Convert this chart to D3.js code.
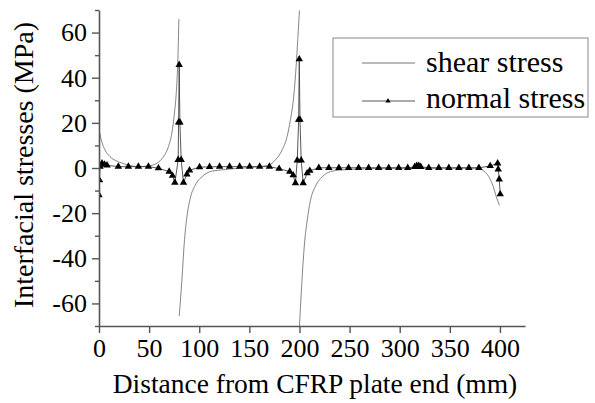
<!DOCTYPE html>
<html><head><meta charset="utf-8">
<script src="https://cdn.jsdelivr.net/npm/d3@7"></script>
<style>body{margin:0;background:#fff} text{font-family:'Liberation Serif','Times New Roman',serif}</style>
</head><body>
<svg id="c" width="595" height="403"></svg>
<script>
// ---- data ----
const shearX = [0, 2.7, 6, 11, 19.3, 29.3, 39.3, 49.3, 57.7, 64.3, 69.3, 72.7, 75.3, 77.3, 78.7, 79.7, null,
  80, 81.7, 83.3, 85, 87.7, 91, 96, 102.7, 111, 121, 140, 159.3, 169.3, 176, 182.7, 187.7, 191, 194.3, 196.7, 198.3, 200, null,
  200, 201.7, 203.3, 205, 207.7, 211, 216, 222.7, 231, 241, 270, 300, 340, 377.7, 382.4, 389, 393.4, 396.4, 399.5];
const shearY = [17, 11.7, 8, 5, 2.8, 1.3, 0.6, 0.9, 2.1, 5, 9.5, 15.5, 24.4, 34.8, 48.2, 66, null,
  -65.6, -56, -45.5, -33.6, -21.7, -13.5, -7.6, -3.9, -1.6, -0.9, -0.1, 0.6, 1.3, 3.6, 8, 14, 21.4, 31.8, 45.2, 57, 69.8, null,
  -70, -56, -44, -33.6, -23.2, -14.3, -8, -3.9, -1.6, -0.9, -0.3, -0.1, -0.1, -0.1, -0.9, -3.9, -8.3, -12.8, -16.5];

const normalX = [0, 0.5, 1, 3, 5.5, 8, 19.3, 29.3, 39.3, 49.3, 59.3, 70, 73.3, 75.7, 79, 79.4, 80, 80.7, 82, 84.3, 87.7, 90.3,
  100.3, 110.3, 120.3, 130.3, 140.3, 150.3, 160.3, 170, 179.7, 190.3, 193.7, 196, 197.8, 199.2, 199.8, 200.5, 201.7, 203.7, 207.7, 210.3,
  219.3, 229.3, 239.3, 249, 259, 269, 279, 289, 299, 308, 315, 317, 319, 321, 329, 339, 349, 359, 369, 379, 390.3, 397.7, 398.3, 399.3, 400.3];
const normalY = [-12, -5.4, 0.6, 2.1, 1.5, 1.2, 0.6, 0.6, 0.6, 0.6, -0.1, -1.6, -3.4, -6.5, 3.6, 20.2, 45.7, 20.2, 3.6, -6.5, -2.8, -1,
  0.4, 0.5, 0.6, 0.6, 0.6, 0.6, 0.6, 0.6, -0.3, -1.6, -3.2, -6.7, 3.4, 21.4, 48.2, 21.4, 3.4, -6.7, -2.3, -1.2,
  0.1, 0.1, 0.1, 0.1, 0.1, 0.1, 0.1, 0.1, 0.1, 0.1, 0.5, 1, 1, 0.5, 0.1, 0.1, 0.1, 0.1, 0.1, 0.1, 0.9, 2.1, -0.6, -5, -11.6];

const xTicks = [0, 50, 100, 150, 200, 250, 300, 350, 400];
const yTicks = [-60, -40, -20, 0, 20, 40, 60];
const yMinorTicks = [-70, -50, -30, -10, 10, 30, 50, 70];
const legendLabels = ["shear stress", "normal stress"];
const xTitle = "Distance from CFRP plate end (mm)";
const yTitle = "Interfacial stresses (MPa)";

// ---- drawing ----
const FONT = "'Liberation Serif','Times New Roman',serif";
const svg = d3.select("#c");
const x = d3.scaleLinear().domain([0, 425]).range([99, 525]);
const y = d3.scaleLinear().domain([-70, 70]).range([326, 10]);

svg.append("defs").append("clipPath").attr("id", "plot")
  .append("rect").attr("x", 99).attr("y", 10).attr("width", 426).attr("height", 316);

const shear = shearX.map((v, i) => ({x: v, y: shearY[i]}));
const normal = normalX.map((v, i) => ({x: v, y: normalY[i]}));

const shearLine = d3.line().defined(d => d.x !== null).x(d => x(d.x)).y(d => y(d.y)).curve(d3.curveMonotoneX);
const normalLine = d3.line().x(d => x(d.x)).y(d => y(d.y));

const g = svg.append("g").attr("clip-path", "url(#plot)");
g.append("path").attr("d", shearLine(shear)).attr("fill", "none").attr("stroke", "#666").attr("stroke-width", 0.8);
g.append("path").attr("d", normalLine(normal)).attr("fill", "none").attr("stroke", "#444").attr("stroke-width", 0.9);
const tri = d3.symbol(d3.symbolTriangle, 24);
g.selectAll("path.m").data(normal).join("path").attr("class", "m")
  .attr("d", tri).attr("transform", d => `translate(${x(d.x)},${y(d.y)})`).attr("fill", "#000");

// axes
const xAxis = d3.axisBottom(x).tickValues(xTicks).tickSize(7).tickSizeOuter(0).tickPadding(6).tickFormat(d3.format("d"));
const yAxis = d3.axisLeft(y).tickValues(yTicks).tickSize(7).tickSizeOuter(0).tickPadding(5).tickFormat(d => String(d));
const yAxisMinor = d3.axisLeft(y).tickValues(yMinorTicks).tickSize(4).tickSizeOuter(0).tickFormat("");

const gx = svg.append("g").attr("transform", "translate(0,326)").call(xAxis);
const gy = svg.append("g").attr("transform", "translate(99,0)").call(yAxis);
const gym = svg.append("g").attr("transform", "translate(99,0)").call(yAxisMinor);
gym.select(".domain").remove();
[gx, gy, gym].forEach(a => {
  a.attr("font-family", FONT).attr("font-size", 26);
  a.selectAll(".domain").attr("stroke", "#555").attr("stroke-width", 1.6);
  a.selectAll(".tick line").attr("stroke", "#555").attr("stroke-width", 1.4);
  a.selectAll("text").style("font-family", FONT).style("font-size", "26px").attr("fill", "#000");
});

svg.append("text").attr("x", 315).attr("y", 393).attr("text-anchor", "middle")
  .style("font-family", FONT).style("font-size", "27.5px").text(xTitle);
svg.append("text").attr("transform", "translate(33,165) rotate(-90)").attr("text-anchor", "middle")
  .style("font-family", FONT).style("font-size", "28px").text(yTitle);

// legend
const lg = svg.append("g");
lg.append("rect").attr("x", 333).attr("y", 38).attr("width", 255).attr("height", 79)
  .attr("fill", "#fff").attr("stroke", "#888").attr("stroke-width", 1);
const rows = [{ly: 63, ty: 72, marker: false}, {ly: 101, ty: 108, marker: true}];
rows.forEach((r, i) => {
  lg.append("line").attr("x1", 362).attr("x2", 415).attr("y1", r.ly).attr("y2", r.ly)
    .attr("stroke", i === 0 ? "#666" : "#444").attr("stroke-width", 0.9);
  if (r.marker) lg.append("path").attr("d", d3.symbol(d3.symbolTriangle, 12)).attr("transform", `translate(388,${r.ly})`).attr("fill", "#000");
  lg.append("text").attr("x", 426).attr("y", r.ty).style("font-family", FONT).style("font-size", "30px").text(legendLabels[i]);
});
</script>
</body></html>
